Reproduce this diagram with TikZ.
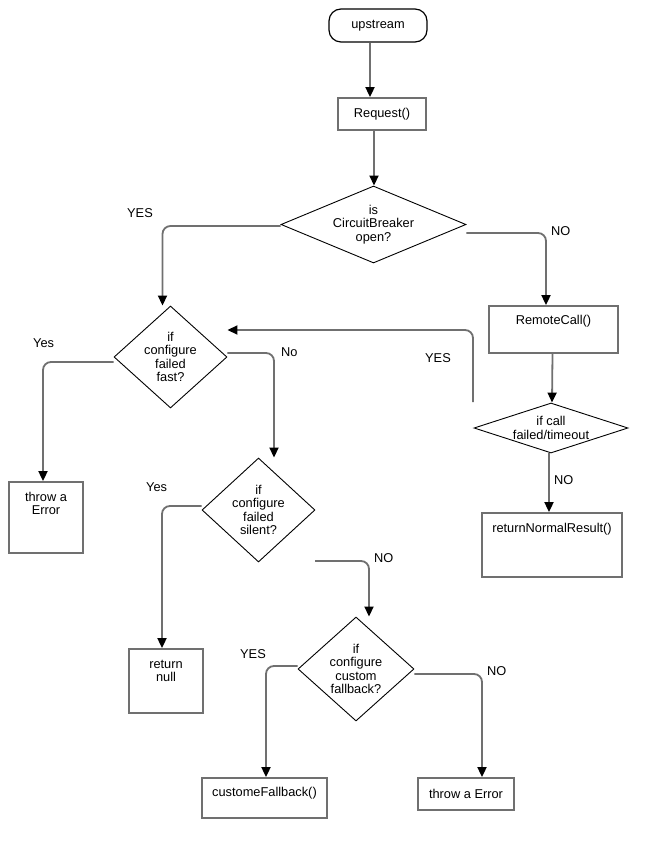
\documentclass[tikz,border=0pt]{standalone}
\usepackage{fontspec}
\setmainfont{Liberation Sans}
\usetikzlibrary{shapes.geometric,arrows.meta,calc}
\definecolor{lg}{RGB}{112,112,112}
\begin{document}
\begin{tikzpicture}[x=1pt,y=-1pt,
  font=\fontsize{12.8}{13.5}\selectfont,
  box/.style={draw=lg, line width=1.8pt, inner sep=0pt, align=center},
  dia/.style={diamond, draw=black, line width=0.9pt, inner sep=0pt},
  term/.style={draw=black, line width=1.2pt, rounded corners=12pt, inner sep=0pt},
  txt/.style={align=center, inner sep=0pt},
  lbl/.style={inner sep=0pt, anchor=north west},
  toptext/.style={anchor=center, yshift=-#1, align=center, inner sep=0pt},
  conn/.style={draw=lg, line width=1.8pt, rounded corners=8pt,
    -{Triangle[width=9pt,length=10pt,color=black]}},
]
\useasboundingbox (0,0) rectangle (667,858);

% nodes
\node[term, minimum width=98pt, minimum height=33pt] (up) at (378,25.5) {upstream};
\node[box, minimum width=88pt, minimum height=32pt] (req) at (382,114) {Request()};
\node[dia, minimum width=185pt, minimum height=77pt] (cb) at (373.5,224.5) {};
\node[txt] (cbT) at (cb) {is\\CircuitBreaker\\open?};

\node[dia, minimum width=113pt, minimum height=102pt] (fast) at (170.5,357) {};
\node[txt] (fastT) at (fast) {if\\configure\\failed\\fast?};

\node[box, minimum width=129pt, minimum height=47pt,
  label={[toptext=16pt]90:RemoteCall()}] (rc) at (553.5,329.5) {};
\node[dia, minimum width=154pt, minimum height=50pt] (call) at (551,428) {};
\node[txt] (callT) at (call) {if call\\failed/timeout};
\node[box, minimum width=140pt, minimum height=64pt,
  label={[toptext=17pt]90:returnNormalResult()}] (normal) at (552,545) {};

\node[box, minimum width=74pt, minimum height=71pt,
  label={[toptext=22.5pt]90:throw a\\Error}] (thr1) at (46,517.5) {};

\node[dia, minimum width=113pt, minimum height=104pt] (silent) at (258.5,510) {};
\node[txt] (silentT) at (silent) {if\\configure\\failed\\silent?};
\node[box, minimum width=74pt, minimum height=64pt,
  label={[toptext=23pt]90:return\\null}] (null) at (166,681) {};

\node[dia, minimum width=116pt, minimum height=104pt] (custom) at (356,669) {};
\node[txt] (customT) at (custom) {if\\configure\\custom\\fallback?};
\node[box, minimum width=125pt, minimum height=40pt,
  label={[toptext=16pt]90:customeFallback()}] (fb) at (264.5,798) {};
\node[box, minimum width=96pt, minimum height=32pt] (thr2) at (466,794) {throw a Error};

\coordinate (sNo) at (315,561);
\coordinate (ys) at (473,402);

% connectors
\draw[conn] ($(up.south)+(-8,0)$) -- ($(req.north)+(-12,0)$);
\draw[conn] ($(req.south)+(-8,0)$) -- ($(cb.north)+(0.5,0)$);
\draw[conn] ($(cb.west)+(0,1.5)$) -| ($(fast.north)+(-8,0)$);
\draw[conn] ($(cb.east)+(0,8.5)$) -| ($(rc.north)+(-7.5,0)$);
\draw[conn] ($(fast.west)+(0,5)$) -| ($(thr1.north)+(-3,0)$);
\draw[conn] ($(fast.east)+(0,-4)$) -| ($(silent.north)+(15.5,0)$);
\draw[conn] ($(silent.west)+(0,-4)$) -| ($(null.north)+(-4,0)$);
\draw[conn] (sNo) -| ($(custom.north)+(13,0)$);
\draw[conn] ($(custom.west)+(0,-3)$) -| ($(fb.north)+(1.5,0)$);
\draw[conn] ($(custom.east)+(0,5)$) -| ($(thr2.north)+(16,0)$);
\draw[conn] ($(rc.south)+(-1,0)$) -- ($(call.north)+(1,0)$);
\draw[conn] ($(call.south)+(-2,0)$) -- ($(normal.north)+(-3,0)$);
\draw[conn] (ys) |- ($(fast.east)+(0,-27)$);

% labels
\node[lbl] (l1) at (127,208) {YES};
\node[lbl] (l2) at (551,226) {NO};
\node[lbl] (l3) at (33,338) {Yes};
\node[lbl] (l4) at (281,347) {No};
\node[lbl] (l5) at (425,353) {YES};
\node[lbl] (l6) at (146,482) {Yes};
\node[lbl] (l7) at (554,475) {NO};
\node[lbl] (l8) at (374,553) {NO};
\node[lbl] (l9) at (240,649) {YES};
\node[lbl] (l10) at (487,666) {NO};
\end{tikzpicture}
\end{document}
